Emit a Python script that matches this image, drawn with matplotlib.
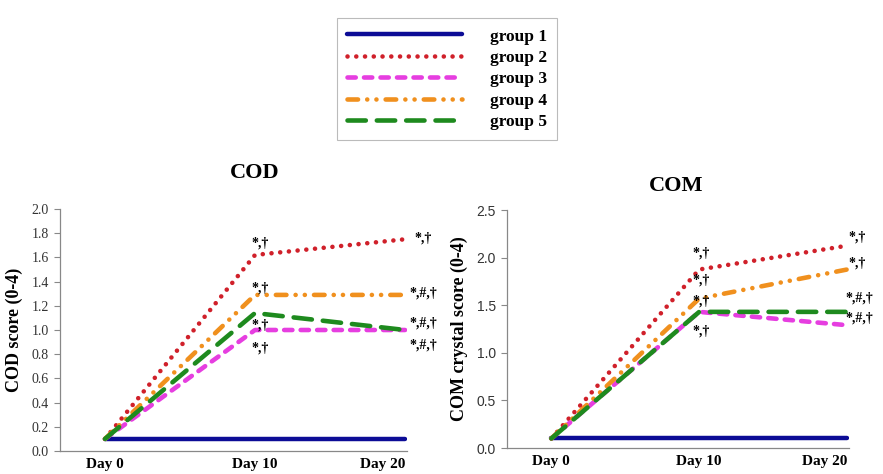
import matplotlib
matplotlib.use("Agg")
import matplotlib.pyplot as plt

days = ["Day 0", "Day 10", "Day 20"]
groups = ["group 1", "group 2", "group 3", "group 4", "group 5"]

cod = {
    "group 1": [0.1, 0.1, 0.1],
    "group 2": [0.1, 1.62, 1.75],
    "group 3": [0.1, 1.0, 1.0],
    "group 4": [0.1, 1.29, 1.29],
    "group 5": [0.1, 1.14, 1.0],
}
com = {
    "group 1": [0.1, 0.1, 0.1],
    "group 2": [0.1, 1.875, 2.125],
    "group 3": [0.1, 1.43, 1.29],
    "group 4": [0.1, 1.57, 1.875],
    "group 5": [0.1, 1.43, 1.43],
}

# significance marks: (day index, group it sits next to, text, dx px, dy px)
cod_marks = [
    (1, "group 2", "*,\u2020", 5, 12),
    (1, "group 4", "*,\u2020", 5, 7),
    (1, "group 3", "*,\u2020", 5, 5),
    (1, "group 3", "*,\u2020", 5, -18),
    (2, "group 2", "*,\u2020", 18, 1),
    (2, "group 4", "*,#,\u2020", 18, 2),
    (2, "group 5", "*,#,\u2020", 18, 7),
    (2, "group 3", "*,#,\u2020", 18, -15),
]
com_marks = [
    (1, "group 2", "*,\u2020", 2, 16),
    (1, "group 4", "*,\u2020", 2, 19),
    (1, "group 5", "*,\u2020", 2, 11),
    (1, "group 3", "*,\u2020", 2, -19),
    (2, "group 2", "*,\u2020", 10, 9),
    (2, "group 4", "*,\u2020", 10, 6),
    (2, "group 5", "*,#,\u2020", 12, 14),
    (2, "group 3", "*,#,\u2020", 12, 7),
]

styles = {
    "group 1": dict(color="#0c0c96", ls="-", lw=3.2),
    "group 2": dict(color="#d0202a", ls=(0, (0.01, 1.9)), lw=3.3),
    "group 3": dict(color="#e63ee0", ls=(0, (1.8, 1.8)), lw=3.3),
    "group 4": dict(color="#f0901e", ls=(0, (2.3, 2.0, 0.01, 2.0, 0.01, 2.0)), lw=3.3),
    "group 5": dict(color="#1e8a1e", ls=(0, (4.0, 2.4)), lw=3.3),
}

serif = ["Liberation Serif", "DejaVu Serif"]
sans = ["Liberation Sans", "DejaVu Sans"]

fig = plt.figure(figsize=(8.83, 4.74), dpi=100)
ax1 = fig.add_axes([60 / 883, 1 - 451 / 474, 347 / 883, 242 / 474])
ax2 = fig.add_axes([507 / 883, 1 - 448 / 474, 342 / 883, 238 / 474])


def draw(ax, data, marks, ymax, ystep, ylabel, tickfont):
    x = list(range(len(days)))
    handles = []
    for g in groups:
        st = styles[g]
        (h,) = ax.plot(x, data[g], color=st["color"], linestyle=st["ls"], lw=st["lw"],
                       dash_capstyle="round", solid_capstyle="round", label=g)
        handles.append(h)
    for d, g, txt, dx, dy in marks:
        ax.annotate(txt, (d, data[g][d]), xytext=(dx, dy), textcoords="offset pixels",
                    ha="center", va="center", fontsize=10, fontweight="bold", family=serif)
    ax.set_xlim(-0.3, 2.013)
    ax.set_ylim(0, ymax)
    n = int(round(ymax / ystep))
    ticks = [i * ystep for i in range(n + 1)]
    ax.set_yticks(ticks)
    ax.set_yticklabels([f"{t:.1f}" for t in ticks], family=tickfont, fontsize=10, color="#333333")
    ax.set_xticks(x)
    labs = ax.set_xticklabels(days, family=serif, fontsize=11, fontweight="bold")
    labs[2].set_ha("right")
    labs[2].set_x(2.0)
    ax.tick_params(axis="x", length=0, pad=5)
    ax.tick_params(axis="y", length=4, color="#888888", pad=4)
    for s in ["top", "right"]:
        ax.spines[s].set_visible(False)
    for s in ["left", "bottom"]:
        ax.spines[s].set_color("#888888")
        ax.spines[s].set_linewidth(0.9)
    ax.set_ylabel(ylabel, family=serif, fontsize=13, fontweight="bold", labelpad=6)
    return handles


h = draw(ax1, cod, cod_marks, 2.0, 0.2, "COD score (0-4)", serif)
draw(ax2, com, com_marks, 2.5, 0.5, "COM crystal score (0-4)", sans)

fig.text(255 / 883, 1 - 173 / 474, "COD", ha="center", va="center",
         family=serif, fontsize=16, fontweight="bold")
fig.text(676 / 883, 1 - 186 / 474, "COM", ha="center", va="center",
         family=serif, fontsize=16, fontweight="bold")

leg = fig.legend(handles=h, labels=groups, loc="upper center",
                 bbox_to_anchor=(447 / 883, 1 - 18 / 474), frameon=True, fancybox=False,
                 handlelength=6.6, handletextpad=1.6, labelspacing=0.3, borderpad=0.6,
                 borderaxespad=0, prop=dict(family=serif, size=12.5, weight="bold"))
leg.get_frame().set_edgecolor("#aaaaaa")
leg.get_frame().set_linewidth(0.8)

fig.savefig("out.png", dpi=100)
